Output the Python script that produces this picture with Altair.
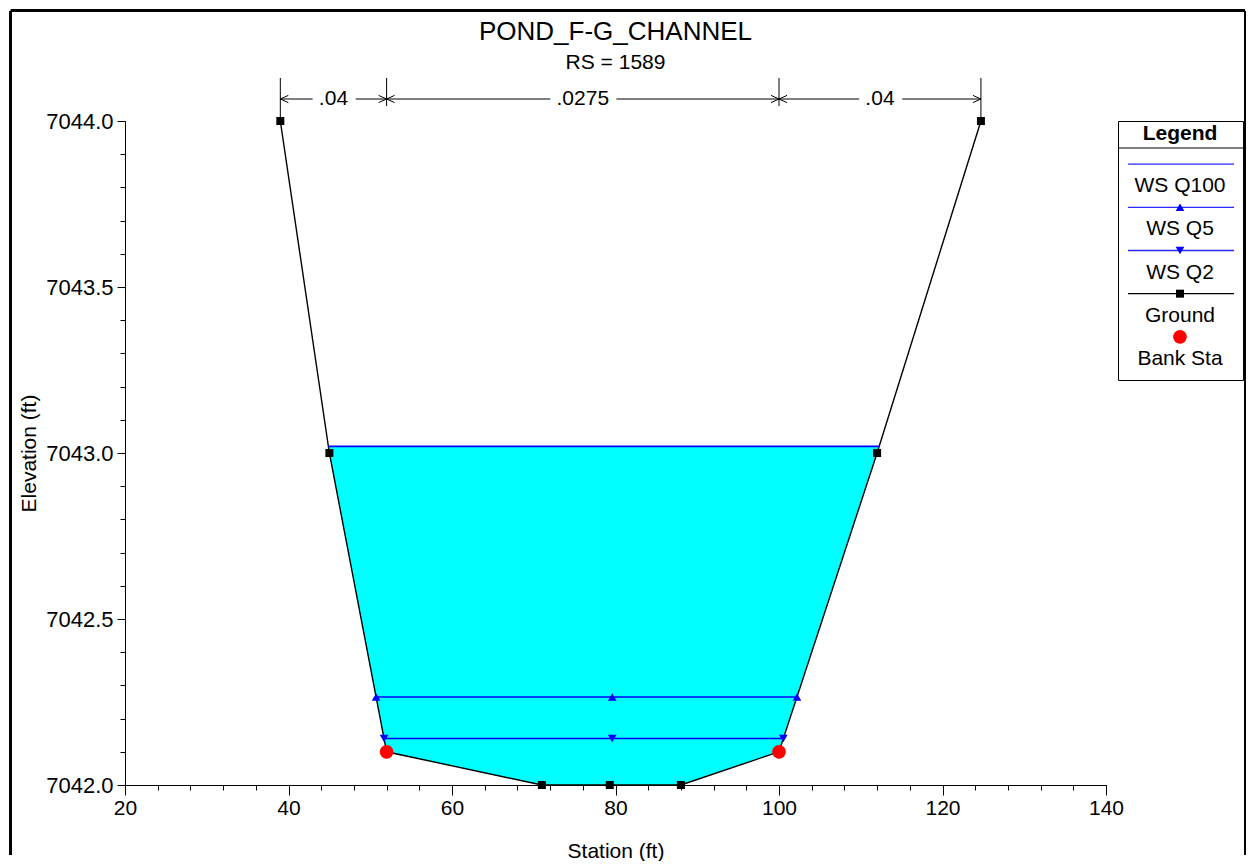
import altair as alt
import numpy as np
import pandas as pd

FONT = "Liberation Sans"

# ---------------- data ----------------
ground_sta = [39.0, 45.0, 52.0, 71.0, 79.3, 88.0, 100.0, 112.0, 124.7]
ground_elev = [7044.0, 7043.0, 7042.1, 7042.0, 7042.0, 7042.0, 7042.1, 7043.0, 7044.0]

bank_sta = [52.0, 100.0]
bank_elev = [7042.1, 7042.1]

ws_names = ["WS Q100", "WS Q5", "WS Q2"]
ws_elev = [7043.02, 7042.265, 7042.14]
ws_left = [44.88, 50.72, 51.69]
ws_right = [112.25, 102.2, 100.53]
ws_mid = [79.6, 79.6, 79.6]

n_sta = [39.0, 52.0, 100.0, 124.7]
n_vals = [".04", ".0275", ".04"]

legend_names = ["WS Q100", "WS Q5", "WS Q2", "Ground", "Bank Sta"]

x_ticks_major = [20, 40, 60, 80, 100, 120, 140]
x_ticks_minor = list(range(20, 141, 4))
y_ticks_major = [7042.0, 7042.5, 7043.0, 7043.5, 7044.0]
y_ticks_minor = [round(7042.0 + 0.1 * i, 1) for i in range(21)]

# ---------------- derived tables ----------------
ground_df = pd.DataFrame({"sta": ground_sta, "elev": ground_elev})
bank_df = pd.DataFrame({"sta": bank_sta, "elev": bank_elev})

wet_sta = [ws_left[0]] + [s for s in ground_sta if ws_left[0] < s < ws_right[0]] + [ws_right[0]]
area_df = pd.DataFrame({
    "sta": wet_sta,
    "top": [ws_elev[0]] * len(wet_sta),
    "bot": np.interp(wet_sta, ground_sta, ground_elev),
})

ws_df = pd.DataFrame({"name": ws_names, "elev": ws_elev, "left": ws_left, "right": ws_right})

mk_rows = []
for name, e, l, m, r in zip(ws_names, ws_elev, ws_left, ws_mid, ws_right):
    if name == "WS Q100":
        continue
    for s in (l, m, r):
        mk_rows.append({"name": name, "sta": s, "elev": e})
mk_df = pd.DataFrame(mk_rows)

seg_df = pd.DataFrame({"left": n_sta[:-1], "right": n_sta[1:], "label": n_vals})
seg_df["mid"] = (seg_df["left"] + seg_df["right"]) / 2

vline_df = pd.DataFrame({"sta": n_sta, "outer": [True, False, False, True]})

# ---------------- scales & axes ----------------
x_scale = alt.Scale(domain=[20, 140], nice=False, zero=False)
y_scale = alt.Scale(domain=[7042.0, 7044.0], nice=False, zero=False)

x_major = alt.Axis(values=x_ticks_major, title="Station (ft)", tickSize=10, labelPadding=2,
                   titlePadding=22, orient="bottom", grid=False, labelFontSize=21, labelFlush=False)
x_minor = alt.Axis(values=x_ticks_minor, labels=False, tickSize=5, domain=False, title=None,
                   orient="bottom", grid=False)
y_major = alt.Axis(values=y_ticks_major, format=".1f", title="Elevation (ft)", tickSize=8,
                   labelPadding=4, titlePadding=6, orient="left", grid=False, labelFontSize=22,
                   labelFlush=False)
y_minor = alt.Axis(values=y_ticks_minor, labels=False, tickSize=5, domain=False, title=None,
                   orient="left", grid=False)

# ---------------- main layers ----------------
area = alt.Chart(area_df).mark_area(color="#00FFFF", opacity=1).encode(
    x=alt.X("sta:Q", scale=x_scale, axis=x_major),
    y=alt.Y("top:Q", scale=y_scale, axis=y_major),
    y2="bot:Q",
)

ground_line = alt.Chart(ground_df).mark_line(color="black", strokeWidth=1.4).encode(
    x=alt.X("sta:Q", scale=x_scale, axis=x_minor),
    y=alt.Y("elev:Q", scale=y_scale, axis=y_minor),
)

ws_rule = alt.Chart(ws_df).mark_rule(color="#0000FF", strokeWidth=1.6).encode(
    x=alt.X("left:Q", scale=x_scale, axis=None),
    x2="right:Q",
    y=alt.Y("elev:Q", scale=y_scale, axis=None),
)

def ws_marker(name, shape):
    return alt.Chart(mk_df).transform_filter(alt.datum.name == name).mark_point(
        shape=shape, filled=True, color="#0000FF", size=75, opacity=1).encode(
        x=alt.X("sta:Q", scale=x_scale, axis=None),
        y=alt.Y("elev:Q", scale=y_scale, axis=None),
    )

q5_marks = ws_marker("WS Q5", "triangle-up")
q2_marks = ws_marker("WS Q2", "triangle-down")

ground_pts = alt.Chart(ground_df).mark_point(shape="square", filled=True, color="black",
                                              size=64, opacity=1).encode(
    x=alt.X("sta:Q", scale=x_scale, axis=None),
    y=alt.Y("elev:Q", scale=y_scale, axis=None),
)

bank_pts = alt.Chart(bank_df).mark_point(shape="circle", filled=True, color="#FF0000",
                                          size=190, opacity=1).encode(
    x=alt.X("sta:Q", scale=x_scale, axis=None),
    y=alt.Y("elev:Q", scale=y_scale, axis=None),
)

# n-value annotation above the plot
vlines_outer = alt.Chart(vline_df).transform_filter("datum.outer").mark_rule(
    color="black", strokeWidth=1).encode(
    x=alt.X("sta:Q", scale=x_scale, axis=None), y=alt.value(-43), y2=alt.value(0))
vlines_inner = alt.Chart(vline_df).transform_filter("!datum.outer").mark_rule(
    color="black", strokeWidth=1).encode(
    x=alt.X("sta:Q", scale=x_scale, axis=None), y=alt.value(-43), y2=alt.value(-15))
seg_rule = alt.Chart(seg_df).mark_rule(color="black", strokeWidth=1).encode(
    x=alt.X("left:Q", scale=x_scale, axis=None), x2="right:Q", y=alt.value(-22))
seg_halo = alt.Chart(seg_df).mark_text(font=FONT, fontSize=21, color="white", stroke="white",
                                       strokeWidth=16, baseline="middle").encode(
    x=alt.X("mid:Q", scale=x_scale, axis=None), y=alt.value(-22), text="label:N")
seg_text = alt.Chart(seg_df).mark_text(font=FONT, fontSize=21, color="black",
                                       baseline="middle").encode(
    x=alt.X("mid:Q", scale=x_scale, axis=None), y=alt.value(-22), text="label:N")
arrow_left = alt.Chart(seg_df).mark_point(shape="M1,-0.45L0,0L1,0.45", filled=False,
                                          color="black", strokeWidth=1, size=256, opacity=1).encode(
    x=alt.X("left:Q", scale=x_scale, axis=None), y=alt.value(-22))
arrow_right = alt.Chart(seg_df).mark_point(shape="M-1,-0.45L0,0L-1,0.45", filled=False,
                                           color="black", strokeWidth=1, size=256, opacity=1).encode(
    x=alt.X("right:Q", scale=x_scale, axis=None), y=alt.value(-22))

main = alt.layer(
    area, ground_line, ws_rule, q5_marks, q2_marks, ground_pts, bank_pts,
    vlines_outer, vlines_inner, seg_rule, seg_halo, seg_text, arrow_left, arrow_right,
).resolve_axis(x="independent", y="independent").properties(
    width=981, height=664,
    title=alt.TitleParams("POND_F-G_CHANNEL", subtitle="RS = 1589", font=FONT, fontSize=26,
                          fontWeight="normal", subtitleFont=FONT, subtitleFontSize=21,
                          subtitleColor="black", color="black", anchor="middle", frame="group",
                          offset=5, subtitlePadding=7),
)

# ---------------- legend panel ----------------
leg_df = pd.DataFrame({"name": legend_names, "row": list(range(1, len(legend_names) + 1))})
leg_y = alt.Scale(domain=[0, 6], reverse=True)
leg_ws_color = "#2828FF"

def leg_line(name, color):
    return alt.Chart(leg_df).transform_filter(alt.datum.name == name).mark_rule(
        strokeWidth=1.3, color=color).encode(
        x=alt.value(10), x2=alt.value(116), y=alt.Y("row:Q", scale=leg_y, axis=None))

def leg_mark(name, shape, color, size):
    return alt.Chart(leg_df).transform_filter(alt.datum.name == name).mark_point(
        shape=shape, filled=True, color=color, size=size, opacity=1).encode(
        x=alt.value(62), y=alt.Y("row:Q", scale=leg_y, axis=None))

leg_text = alt.Chart(leg_df).mark_text(font=FONT, fontSize=21, color="black", baseline="middle", dy=22).encode(
    x=alt.value(62),
    y=alt.Y("row:Q", scale=leg_y, axis=None),
    text="name:N",
)
leg_head = alt.Chart(pd.DataFrame({"row": [0], "t": ["Legend"]})).mark_text(
    font=FONT, fontSize=21, fontWeight="bold", color="black", baseline="middle", dy=13).encode(
    x=alt.value(62), y=alt.Y("row:Q", scale=leg_y, axis=None), text="t:N")
leg_sep = alt.Chart(pd.DataFrame({"row": [0]})).mark_rule(color="black", strokeWidth=1, yOffset=27).encode(
    x=alt.value(0), x2=alt.value(125), y=alt.Y("row:Q", scale=leg_y, axis=None))

# window frame around the whole figure (drawn from the legend cell, relative to its origin)
frame_df = pd.DataFrame({"k": [0]})
frame_left = alt.Chart(frame_df).mark_rule(color="black", strokeWidth=3).encode(
    x=alt.value(-1107.5), y=alt.value(-110), y2=alt.value(734))
frame_top = alt.Chart(frame_df).mark_rule(color="black", strokeWidth=3).encode(
    x=alt.value(-1107.5), x2=alt.value(127), y=alt.value(-110.5))
frame_right = alt.Chart(frame_df).mark_rule(color="black", strokeWidth=2).encode(
    x=alt.value(127), y=alt.value(-110), y2=alt.value(734))

legend_panel = alt.layer(
    leg_line("WS Q100", leg_ws_color),
    leg_line("WS Q5", leg_ws_color),
    leg_line("WS Q2", leg_ws_color),
    leg_line("Ground", "black"),
    leg_mark("WS Q5", "triangle-up", "#0000FF", 75),
    leg_mark("WS Q2", "triangle-down", "#0000FF", 75),
    leg_mark("Ground", "square", "black", 64),
    leg_mark("Bank Sta", "circle", "#FF0000", 190),
    leg_text, leg_head, leg_sep, frame_left, frame_top, frame_right,
).properties(
    width=125, height=259,
    view=alt.ViewBackground(stroke="black", strokeWidth=1),
)

chart = alt.hconcat(main, legend_panel, spacing=12, bounds="flush").configure_axis(
    labelFont=FONT, titleFont=FONT, labelFontSize=21, titleFontSize=21, titleFontWeight="normal",
    labelColor="black", titleColor="black", domainColor="black", tickColor="black",
    domainWidth=1, tickWidth=1,
).configure_view(strokeWidth=0).properties(background="white", padding=0)

chart.save("out.html", embed_options={"renderer": "svg", "actions": False})
